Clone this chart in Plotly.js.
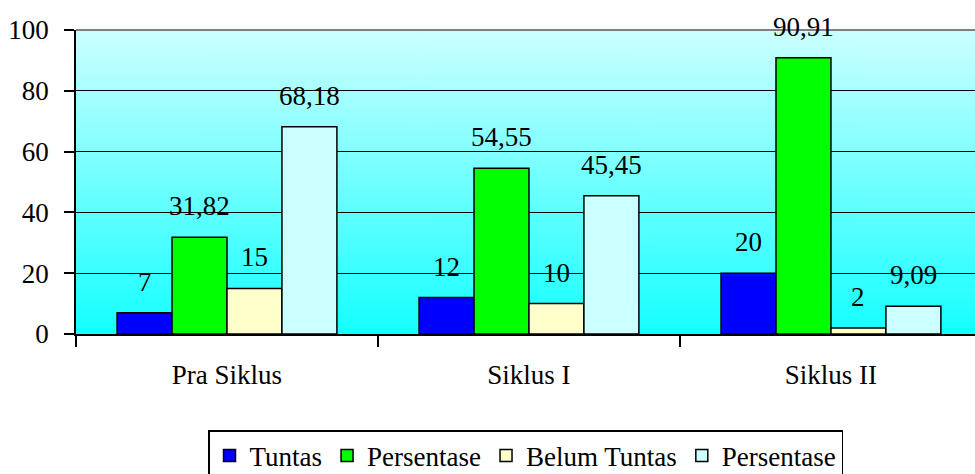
<!DOCTYPE html>
<html>
<head>
<meta charset="utf-8">
<script src="https://cdn.plot.ly/plotly-3.0.1.min.js"></script>
</head>
<body style="margin:0;background:#fff">
<div id="chart" style="width:975px;height:474px"></div>
<script>
// ---- data ----
var categories = ["Pra Siklus", "Siklus I", "Siklus II"];
var seriesNames = ["Tuntas", "Persentase", "Belum Tuntas", "Persentase"];
var tuntas = [7, 12, 20];
var persenTuntas = [31.82, 54.55, 90.91];
var belumTuntas = [15, 10, 2];
var persenBelum = [68.18, 45.45, 9.09];
var yTickVals = [0, 20, 40, 60, 80, 100];

var seriesValues = [tuntas, persenTuntas, belumTuntas, persenBelum];
var seriesColors = ["#0000FF", "#00FF00", "#FFFFCC", "#CCFFFF"];

// ---- background gradient image ----
var cv = document.createElement("canvas");
cv.width = 4; cv.height = 256;
var ctx = cv.getContext("2d");
var g = ctx.createLinearGradient(0, 0, 0, 256);
g.addColorStop(0, "#CCFFFF");
g.addColorStop(1, "#14FFFF");
ctx.fillStyle = g;
ctx.fillRect(0, 0, 4, 256);
var bgURL = cv.toDataURL("image/png");

var FONT = "Times New Roman";
var bargap = 0.272;
var catPx = 302;
var barPx = catPx * (1 - bargap) / 4;

var traces = seriesValues.map(function (vals, i) {
  return {
    type: "bar",
    name: seriesNames[i],
    x: categories,
    y: vals,
    marker: {color: seriesColors[i], line: {color: "#000", width: 1.5}},
    hoverinfo: "none"
  };
});

var annotations = [];
seriesValues.forEach(function (vals, i) {
  vals.forEach(function (v, j) {
    annotations.push({
      x: categories[j], y: v, xref: "x", yref: "y",
      text: String(v).replace(".", ","),
      showarrow: false,
      yanchor: "bottom",
      xanchor: "center",
      xshift: (i - 1.5) * barPx,
      yshift: 14,
      font: {family: FONT, size: 27, color: "#000"}
    });
  });
});

var layout = {
  width: 975, height: 474,
  margin: {l: 76, r: 0, t: 30, b: 140, autoexpand: false},
  paper_bgcolor: "#fff",
  plot_bgcolor: "rgba(0,0,0,0)",
  font: {family: FONT, size: 27, color: "#000"},
  barmode: "group",
  bargap: bargap,
  bargroupgap: 0,
  showlegend: true,
  legend: {
    orientation: "h",
    x: 0.5, xanchor: "center",
    y: -0.316, yanchor: "top",
    bgcolor: "#fff",
    bordercolor: "#000",
    borderwidth: 1.5,
    font: {family: FONT, size: 27, color: "#000"},
    traceorder: "normal"
  },
  xaxis: {
    type: "category",
    range: [-0.5, 2.477],
    tickson: "boundaries",
    ticks: "outside",
    ticklen: 11,
    tickwidth: 1.5,
    tickcolor: "#000",
    showline: true,
    linecolor: "#000",
    linewidth: 1.5,
    showgrid: false,
    ticklabelstandoff: 16,
    tickfont: {family: FONT, size: 27, color: "#000"},
    fixedrange: true
  },
  yaxis: {
    range: [0, 100],
    tickvals: yTickVals,
    ticktext: yTickVals.map(String),
    ticks: "outside",
    ticklen: 10,
    tickwidth: 1.5,
    tickcolor: "#000",
    showline: true,
    linecolor: "#000",
    linewidth: 1.5,
    showgrid: true,
    gridcolor: "#000",
    gridwidth: 1.2,
    zeroline: false,
    ticklabelstandoff: 10,
    tickfont: {family: FONT, size: 27, color: "#000"},
    fixedrange: true
  },
  images: [{
    source: bgURL, xref: "paper", yref: "paper",
    x: 0, y: 1, sizex: 1, sizey: 1,
    xanchor: "left", yanchor: "top",
    sizing: "stretch", layer: "below"
  }],
  shapes: [{
    type: "line", xref: "paper", yref: "paper",
    x0: 0, x1: 1, y0: 1, y1: 1,
    line: {color: "#808080", width: 2}
  }],
  annotations: annotations
};

Plotly.newPlot("chart", traces, layout, {displayModeBar: false});
</script>
</body>
</html>
